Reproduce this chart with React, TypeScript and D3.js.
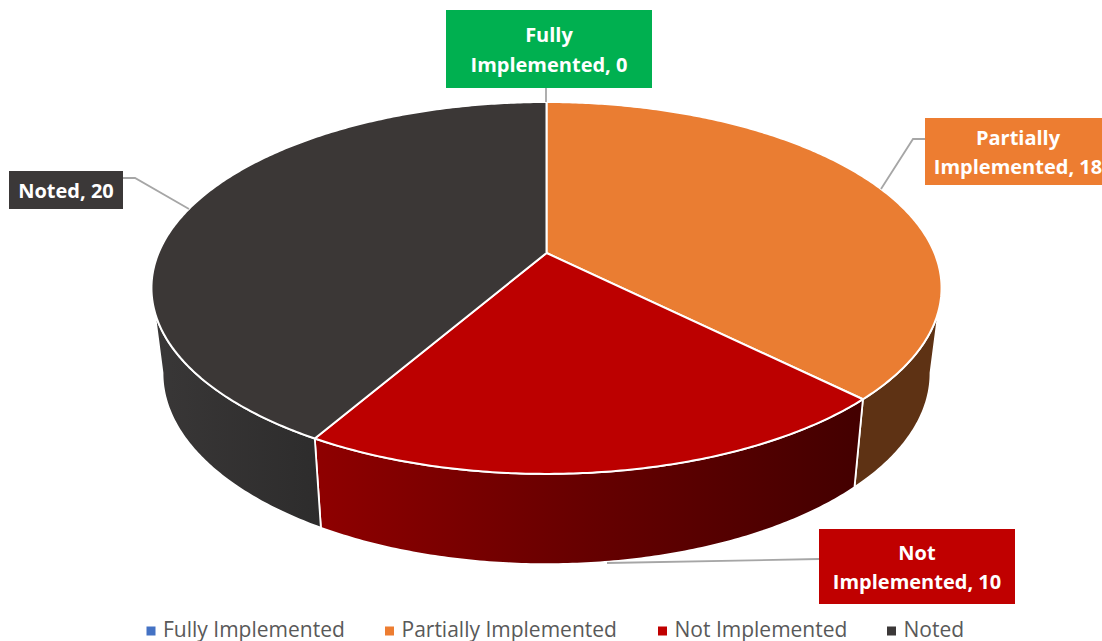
import React from "react";
import * as d3 from "d3";

// Data
const categories = ["Fully Implemented", "Partially Implemented", "Not Implemented", "Noted"];
const values = [0, 18, 10, 20];

// Styles
const topColors = ["#4472c4", "#ea7d32", "#bc0000", "#3b3736"];
const legendColors = ["#4472c4", "#ed7d31", "#c00000", "#3b3838"];
const labelFills = ["#00b050", "#ed7d31", "#c00000", "#3b3838"];
const wallFills = ["#4472c4", "#5e3214", "url(#wallRed)", "url(#wallDark)"];

// Perspective projection of the disc: the top and bottom rims
type Plane = { cx: number; k: number; a: number; b: number; c: number };
const topPlane: Plane = { cx: 546.5, k: 388, a: -131.8, b: 253, c: 0.188 };
const bottomPlane: Plane = { cx: 546.5, k: 377, a: -120, b: 337, c: 0.19 };
const project = (p: Plane, t: number): [number, number] => {
  const u = Math.sin(t);
  const v = Math.cos(t);
  const w = 1 + p.c * v;
  return [p.cx + (p.k * u) / w, (p.a * v + p.b) / w];
};
const sampleAngles = (from: number, to: number) => {
  const n = Math.max(2, Math.ceil(Math.abs(to - from) / 0.01));
  return d3.range(n + 1).map((i) => from + ((to - from) * i) / n);
};
const line = d3.line<[number, number]>();
const pieAngles = d3.pie<number>().sort(null).startAngle(0).endAngle(2 * Math.PI)(values);
const wallStart = Math.acos(-topPlane.c);
const wallEnd = 2 * Math.PI - wallStart;

const labelBoxes = [
  { x: 446, y: 10, w: 206, h: 78, cx: 549 },
  { x: 925, y: 118, w: 190, h: 67, cx: 1018 },
  { x: 819, y: 529, w: 196, h: 75, cx: 917 },
  { x: 9, y: 171, w: 114, h: 38, cx: 66 },
];
const leaders: [number, number][][] = [
  [[546, 88], [546, 102]],
  [[925, 139], [913, 139], [881, 189]],
  [[819, 559], [607, 563]],
  [[123, 178], [135, 178], [189, 209]],
];
const legendX = [146.5, 385, 658, 887];
const labelLines = (name: string, value: number): string[] => {
  const words = name.split(" ");
  const last = `${words[words.length - 1]}, ${value}`;
  return words.length > 1 ? [words.slice(0, -1).join(" "), last] : [last];
};
const font = "'Open Sans', sans-serif";

export default function App() {
  return (
    <svg width={1102} height={641} viewBox="0 0 1102 641"
      style={{ position: "fixed", left: 0, top: 0, display: "block", background: "#fff" }}>
      <defs>
        <linearGradient id="wallRed" gradientUnits="userSpaceOnUse" x1={321} x2={855} y1={0} y2={0}>
          <stop offset="0" stopColor="#8e0000" />
          <stop offset="0.5" stopColor="#660000" />
          <stop offset="1" stopColor="#440000" />
        </linearGradient>
        <linearGradient id="wallDark" gradientUnits="userSpaceOnUse" x1={155} x2={321} y1={0} y2={0}>
          <stop offset="0" stopColor="#393737" />
          <stop offset="1" stopColor="#2d2c2c" />
        </linearGradient>
      </defs>

      {/* side walls */}
      {pieAngles.map((s, i) => {
        const from = Math.max(s.startAngle, wallStart);
        const to = Math.min(s.endAngle, wallEnd);
        if (to <= from) return null;
        const ts = sampleAngles(from, to);
        const pts = [...ts.map((t) => project(topPlane, t)), ...ts.slice().reverse().map((t) => project(bottomPlane, t))];
        return <path key={i} d={line(pts) + "Z"} fill={wallFills[i]} stroke="#fff" strokeWidth={1.8} strokeLinejoin="round" />;
      })}

      {/* top faces */}
      {pieAngles.map((s, i) => {
        if (s.endAngle <= s.startAngle) return null;
        const centre: [number, number] = [topPlane.cx, topPlane.b];
        const arc = sampleAngles(s.startAngle, s.endAngle).map((t) => project(topPlane, t));
        return <path key={i} d={line([centre, ...arc]) + "Z"} fill={topColors[i]} stroke="#fff" strokeWidth={2} strokeLinejoin="round" />;
      })}

      {/* leaders */}
      {leaders.map((l, i) => (
        <path key={i} d={line(l) ?? ""} fill="none" stroke="#a6a6a6" strokeWidth={1.8} />
      ))}

      {/* data labels */}
      {categories.map((c, i) => {
        const b = labelBoxes[i];
        const lines = labelLines(c, values[i]);
        const midY = b.y + b.h / 2;
        return (
          <g key={c}>
            <rect x={b.x} y={b.y} width={b.w} height={b.h} fill={labelFills[i]} />
            {lines.map((t, j) => (
              <text key={j} x={b.cx} y={midY + (j - (lines.length - 1) / 2) * 29.5 + 8}
                textAnchor="middle" fontFamily={font} fontWeight={700} fontSize={20} fill="#fff">{t}</text>
            ))}
          </g>
        );
      })}

      {/* legend */}
      {categories.map((c, i) => (
        <g key={c}>
          <rect x={legendX[i]} y={626.5} width={9} height={9} fill={legendColors[i]} />
          <text x={legendX[i] + 16.5} y={637} fontFamily={font} fontSize={21} fill="#595959">{c}</text>
        </g>
      ))}
    </svg>
  );
}
